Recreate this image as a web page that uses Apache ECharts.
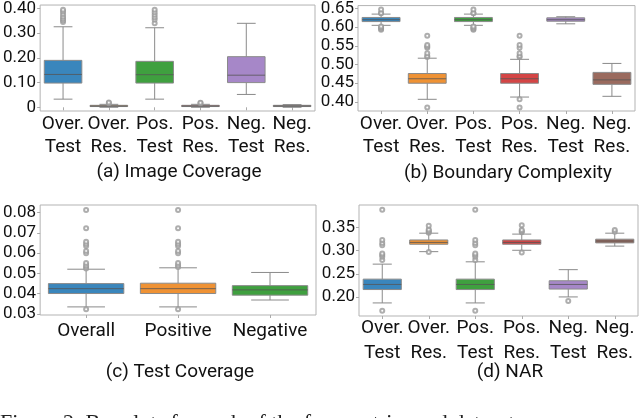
<!DOCTYPE html>
<html>
<head>
<meta charset="utf-8">
<script src="https://cdn.jsdelivr.net/npm/echarts@6/dist/echarts.min.js"></script>
<style>
html,body{margin:0;padding:0;background:#fff;}
#chart{width:640px;height:418px;}
</style>
</head>
<body>
<div id="chart"></div>
<script>
// ---------- data ----------
const catsSix = ['Over.\nTest', 'Over.\nRes.', 'Pos.\nTest', 'Pos.\nRes.', 'Neg.\nTest', 'Neg.\nRes.'];
const catsThree = ['Overall', 'Positive', 'Negative'];

// [lowWhisker, Q1, median, Q3, highWhisker]
const statsA = [
  [0.033, 0.098, 0.133, 0.190, 0.326],
  [0.000, 0.003, 0.005, 0.008, 0.012],
  [0.033, 0.098, 0.132, 0.186, 0.322],
  [0.000, 0.003, 0.005, 0.008, 0.012],
  [0.052, 0.100, 0.130, 0.205, 0.340],
  [0.000, 0.003, 0.005, 0.008, 0.011]
];
const outliersA = [
  [0.345, 0.352, 0.360, 0.368, 0.378, 0.388, 0.395],
  [0.016, 0.019],
  [0.340, 0.355, 0.365, 0.375, 0.385, 0.395],
  [0.016, 0.018],
  [],
  []
];

const statsB = [
  [0.605, 0.615, 0.620, 0.626, 0.635],
  [0.407, 0.450, 0.462, 0.476, 0.517],
  [0.605, 0.615, 0.620, 0.626, 0.635],
  [0.413, 0.450, 0.462, 0.476, 0.514],
  [0.609, 0.616, 0.620, 0.625, 0.628],
  [0.415, 0.447, 0.459, 0.479, 0.503]
];
const outliersB = [
  [0.593, 0.596, 0.599, 0.602, 0.637, 0.638, 0.647],
  [0.385, 0.520, 0.523, 0.530, 0.545, 0.548, 0.552, 0.577],
  [0.593, 0.596, 0.599, 0.602, 0.637, 0.638, 0.647],
  [0.385, 0.407, 0.520, 0.523, 0.530, 0.545, 0.552, 0.577],
  [],
  []
];

const statsC = [
  [0.0335, 0.0401, 0.0425, 0.0450, 0.0521],
  [0.0335, 0.0401, 0.0425, 0.0452, 0.0528],
  [0.0369, 0.0393, 0.0419, 0.0440, 0.0505]
];
const outliersC = [
  [0.0323, 0.0524, 0.0532, 0.0541, 0.0552, 0.0600, 0.0611, 0.0636, 0.0646, 0.0657, 0.0723, 0.0813],
  [0.0323, 0.0532, 0.0541, 0.0552, 0.0600, 0.0611, 0.0636, 0.0646, 0.0657, 0.0723, 0.0813],
  []
];

const statsD = [
  [0.187, 0.216, 0.227, 0.2385, 0.271],
  [0.298, 0.314, 0.318, 0.3233, 0.338],
  [0.187, 0.216, 0.227, 0.2385, 0.276],
  [0.301, 0.314, 0.318, 0.3233, 0.336],
  [0.200, 0.217, 0.227, 0.235, 0.259],
  [0.310, 0.317, 0.321, 0.325, 0.338]
];
const outliersD = [
  [0.170, 0.280, 0.287, 0.291, 0.294, 0.312, 0.317, 0.323, 0.3885],
  [0.297, 0.339, 0.341, 0.343, 0.346, 0.354],
  [0.170, 0.280, 0.287, 0.291, 0.294, 0.312, 0.317, 0.323, 0.3885],
  [0.296, 0.340, 0.342, 0.345, 0.355],
  [0.191],
  [0.341, 0.345]
];

const colorsSix = ['#3a86bc', '#ef9234', '#3fa03f', '#d44545', '#a687c8', '#9a6a5e'];
const colorsThree = ['#3a86bc', '#ef9234', '#3fa03f'];

const captions = ['(a) Image Coverage', '(b) Boundary Complexity', '(c) Test Coverage', '(d) NAR'];
const figureCaption = 'Figure 2: Boxplots for each of the four metrics and datasets';

// ---------- build ----------
const FONT = 'Roboto';
const LINE = '#8a8a8a';
const MEDIAN = '#555555';

function boxRender(colors) {
  return function (params, api) {
    const i = api.value(0);
    const lo = api.coord([i, api.value(1)]);
    const q1 = api.coord([i, api.value(2)]);
    const md = api.coord([i, api.value(3)]);
    const q3 = api.coord([i, api.value(4)]);
    const hi = api.coord([i, api.value(5)]);
    const band = api.size([1, 0])[0];
    const w = band * 0.82, cw = w * 0.5, x = lo[0];
    const ls = { stroke: LINE, lineWidth: 1 };
    return {
      type: 'group',
      children: [
        { type: 'line', shape: { x1: x, y1: lo[1], x2: x, y2: q1[1] }, style: ls },
        { type: 'line', shape: { x1: x, y1: q3[1], x2: x, y2: hi[1] }, style: ls },
        { type: 'line', shape: { x1: x - cw / 2, y1: lo[1], x2: x + cw / 2, y2: lo[1] }, style: ls },
        { type: 'line', shape: { x1: x - cw / 2, y1: hi[1], x2: x + cw / 2, y2: hi[1] }, style: ls },
        { type: 'rect', shape: { x: x - w / 2, y: q3[1], width: w, height: q1[1] - q3[1] },
          style: { fill: colors[params.dataIndex], stroke: LINE, lineWidth: 1 } },
        { type: 'line', shape: { x1: x - w / 2, y1: md[1], x2: x + w / 2, y2: md[1] },
          style: { stroke: MEDIAN, lineWidth: 1, opacity: 0.8 } }
      ]
    };
  };
}

const grids = [
  { left: 38, top: 3, width: 277, height: 108 },
  { left: 358, top: 3, width: 277, height: 108 },
  { left: 40, top: 205, width: 276, height: 110 },
  { left: 359, top: 205, width: 279, height: 111 }
];
const panels = [
  { cats: catsSix, stats: statsA, outs: outliersA, colors: colorsSix, min: -0.015, max: 0.414, split: 4,
    fmt: v => (Math.abs(v) < 1e-9 ? '0' : v.toFixed(2)), lh: 23, margin: 2 },
  { cats: catsSix, stats: statsB, outs: outliersB, colors: colorsSix, min: 0.3757, max: 0.6578, split: 6,
    fmt: v => v.toFixed(2), lh: 23, margin: 2 },
  { cats: catsThree, stats: statsC, outs: outliersC, colors: colorsThree, min: 0.0295, max: 0.0838, split: 5,
    fmt: v => v.toFixed(2), lh: 23, margin: 5 },
  { cats: catsSix, stats: statsD, outs: outliersD, colors: colorsSix, min: 0.1587, max: 0.399, split: 5,
    fmt: v => v.toFixed(2), lh: 25, margin: 0 }
];

const option = {
  animation: false,
  backgroundColor: '#fff',
  grid: grids.map(g => Object.assign({ show: true, borderColor: '#b3b3b3', borderWidth: 1, backgroundColor: 'transparent' }, g)),
  xAxis: [], yAxis: [], series: [],
  graphic: []
};

panels.forEach((p, k) => {
  option.xAxis.push({
    type: 'category', gridIndex: k, data: p.cats, boundaryGap: true,
    axisLine: { show: false },
    axisTick: { show: true, alignWithLabel: true, length: 3, lineStyle: { color: '#aaa' } },
    axisLabel: { fontFamily: FONT, fontSize: 19, color: '#111', lineHeight: p.lh, margin: p.margin, interval: 0 },
    splitLine: { show: false }
  });
  option.yAxis.push({
    type: 'value', gridIndex: k, min: p.min, max: p.max, splitNumber: p.split,
    axisLine: { show: false },
    axisTick: { show: true, length: 3, lineStyle: { color: '#aaa' } },
    axisLabel: { fontFamily: FONT, fontSize: 17, color: '#111', margin: 4, showMinLabel: false, showMaxLabel: false,
      formatter: p.fmt },
    splitLine: { show: false }
  });
  option.series.push({
    type: 'custom', xAxisIndex: k, yAxisIndex: k,
    renderItem: boxRender(p.colors),
    encode: { x: 0, y: [1, 2, 3, 4, 5] },
    data: p.stats.map((s, i) => [i].concat(s))
  });
  const pts = [];
  p.outs.forEach((arr, i) => arr.forEach(v => pts.push([i, v])));
  option.series.push({
    type: 'scatter', xAxisIndex: k, yAxisIndex: k,
    symbol: 'emptyCircle', symbolSize: 4,
    itemStyle: { color: '#9a9a9a', borderColor: '#9a9a9a', borderWidth: 0.7 },
    data: pts, z: 3
  });
});

const capPos = [[179, 172], [508, 173], [180, 372], [510, 372]];
captions.forEach((t, k) => {
  option.graphic.push({
    type: 'text', x: capPos[k][0], y: capPos[k][1],
    style: { text: t, fontFamily: FONT, fontSize: 19, fill: '#111', textAlign: 'center', textVerticalAlign: 'middle' }
  });
});
option.graphic.push({
  type: 'text', x: 0, y: 412,
  style: { text: figureCaption, fontFamily: 'Liberation Serif', fontSize: 22, fill: '#222', textAlign: 'left', textVerticalAlign: 'top' }
});

const chart = echarts.init(document.getElementById('chart'), null, { renderer: 'canvas' });
chart.setOption(option);
</script>
</body>
</html>
